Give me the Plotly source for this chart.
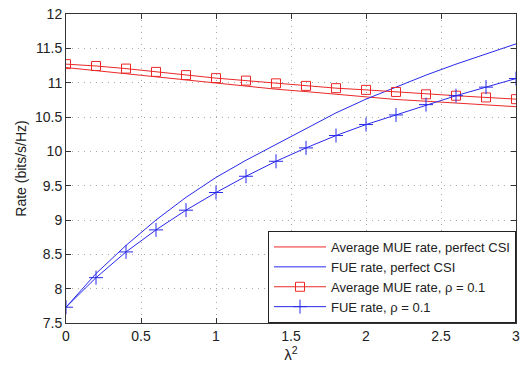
import plotly.graph_objects as go

lam2 = [0, 0.2, 0.4, 0.6, 0.8, 1.0, 1.2, 1.4, 1.6, 1.8, 2.0, 2.2, 2.4, 2.6, 2.8, 3.0]

mue_perfect = [11.22, 11.175, 11.13, 11.08, 11.035, 10.99, 10.945, 10.905, 10.87, 10.83,
               10.79, 10.755, 10.73, 10.70, 10.675, 10.65]
fue_perfect = [7.73, 8.22, 8.63, 9.0, 9.33, 9.62, 9.87, 10.1, 10.33, 10.56,
               10.76, 10.94, 11.11, 11.27, 11.42, 11.565]
mue_rho = [11.27, 11.243, 11.205, 11.157, 11.11, 11.066, 11.03, 10.99, 10.953, 10.92,
           10.895, 10.865, 10.83, 10.81, 10.785, 10.76]
fue_rho = [7.73, 8.16, 8.535, 8.856, 9.143, 9.40, 9.637, 9.855, 10.05, 10.23,
           10.39, 10.53, 10.68, 10.81, 10.935, 11.06]

names = ["Average MUE rate, perfect CSI", "FUE rate, perfect CSI",
         "Average MUE rate, \u03c1 = 0.1", "FUE rate, \u03c1 = 0.1"]

RED = "rgb(235,40,40)"
BLUE = "rgb(40,40,235)"
FONT = "Liberation Sans, Arial, sans-serif"

fig = go.Figure()
fig.add_trace(go.Scatter(x=lam2, y=mue_perfect, mode="lines", name=names[0],
                         line=dict(color=RED, width=1)))
fig.add_trace(go.Scatter(x=lam2, y=fue_perfect, mode="lines", name=names[1],
                         line=dict(color=BLUE, width=1)))
fig.add_trace(go.Scatter(x=lam2, y=mue_rho, mode="lines+markers", name=names[2],
                         line=dict(color=RED, width=1),
                         marker=dict(symbol="square-open", size=9, color=RED,
                                     line=dict(width=1, color=RED))))
fig.add_trace(go.Scatter(x=lam2, y=fue_rho, mode="lines+markers", name=names[3],
                         line=dict(color=BLUE, width=1),
                         marker=dict(symbol="cross-thin", size=10, color=BLUE,
                                     line=dict(width=1, color=BLUE))))

axis_common = dict(
    showline=True, linecolor="#333333", linewidth=1, mirror="ticks",
    ticks="inside", ticklen=5, tickcolor="#333333",
    showgrid=True, gridcolor="#a8a8a8", griddash="1px,5px", gridwidth=1,
    zeroline=False, dtick=0.5, ticklabeloverflow="allow",
    tickfont=dict(family=FONT, size=14, color="#222222"),
)

fig.update_xaxes(range=[0, 3], tick0=0,
                 title=dict(text="\u03bb<sup>2</sup>", standoff=0,
                            font=dict(family=FONT, size=15, color="#222222")),
                 **axis_common)
fig.update_yaxes(range=[7.5, 12], tick0=7.5,
                 title=dict(text="Rate (bits/s/Hz)", standoff=5,
                            font=dict(family=FONT, size=14, color="#222222")),
                 **axis_common)

fig.update_layout(
    width=529, height=369,
    margin=dict(l=66, r=13, t=6, b=46),
    paper_bgcolor="white", plot_bgcolor="white",
    font=dict(family=FONT, color="#222222"),
    legend=dict(x=1, y=0, xanchor="right", yanchor="bottom",
                bgcolor="white", bordercolor="#222222", borderwidth=1,
                font=dict(size=13, color="#222222"),
                tracegroupgap=0, itemwidth=52),
    showlegend=True,
)

fig.write_html("out.html", config={"displayModeBar": False},
               post_script="document.body.style.margin='0px';")
